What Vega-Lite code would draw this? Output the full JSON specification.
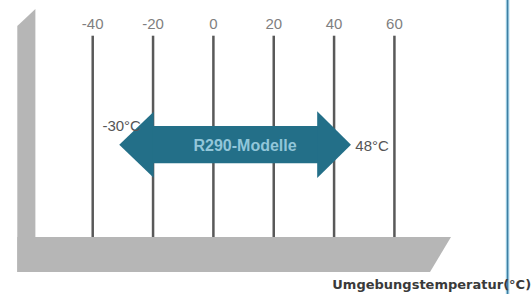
{
  "$schema": "https://vega.github.io/schema/vega-lite/v6.json",
  "width": 532,
  "height": 294,
  "padding": 0,
  "autosize": {"type": "none"},
  "background": "#ffffff",
  "config": {"view": {"stroke": null}},
  "datasets": {
    "base": [
      {"shape": "wall", "t": -65.0, "top": 26, "bottom": 272},
      {"shape": "wall", "t": -59.0, "top": 9, "bottom": 272},
      {"shape": "floor", "t": -65.0, "top": 237, "bottom": 272},
      {"shape": "floor", "t": 71.8, "top": 237, "bottom": 272},
      {"shape": "floor", "t": 78.75, "top": 237, "bottom": 237}
    ],
    "ticks": [
      {"t": -40, "label": "-40"},
      {"t": -20, "label": "-20"},
      {"t": 0, "label": "0"},
      {"t": 20, "label": "20"},
      {"t": 40, "label": "40"},
      {"t": 60, "label": "60"}
    ],
    "arrow": [
      {"part": "left", "t": -31.2, "top": 144.7, "bottom": 144.7},
      {"part": "left", "t": -19.8, "top": 111.7, "bottom": 177.7},
      {"part": "shaft", "t": -20.2, "top": 126, "bottom": 163.3},
      {"part": "shaft", "t": 34.8, "top": 126, "bottom": 163.3},
      {"part": "right", "t": 34.4, "top": 111.3, "bottom": 178},
      {"part": "right", "t": 45.6, "top": 144.7, "bottom": 144.7}
    ],
    "limits": [
      {"t": -30.4, "y": 130.7, "label": "-30°C"},
      {"t": 52.6, "y": 150.7, "label": "48°C"}
    ],
    "divider": [{"t": 97.5, "top": 0, "bottom": 294}]
  },
  "layer": [
    {
      "data": {"name": "base"},
      "mark": {"type": "area", "color": "#b6b6b6", "interpolate": "linear"},
      "encoding": {
        "x": {"field": "t", "type": "quantitative", "scale": {"domain": [-70.73, 105.6], "nice": false, "zero": false}, "axis": null},
        "y": {"field": "top", "type": "quantitative", "scale": {"domain": [0, 294], "reverse": true, "nice": false, "zero": false}, "axis": null},
        "y2": {"field": "bottom"},
        "detail": {"field": "shape"}
      }
    },
    {
      "data": {"name": "ticks"},
      "mark": {"type": "rule", "color": "#595959", "strokeWidth": 2.5},
      "encoding": {
        "x": {"field": "t", "type": "quantitative"},
        "y": {"datum": 35.7, "type": "quantitative"},
        "y2": {"datum": 237}
      }
    },
    {
      "data": {"name": "ticks"},
      "mark": {"type": "text", "font": "Liberation Sans", "fontSize": 15, "color": "#7f7f7f", "baseline": "alphabetic", "align": "center"},
      "encoding": {
        "x": {"field": "t", "type": "quantitative"},
        "y": {"datum": 29, "type": "quantitative"},
        "text": {"field": "label"}
      }
    },
    {
      "data": {"name": "arrow"},
      "mark": {"type": "area", "color": "#236f88", "interpolate": "linear"},
      "encoding": {
        "x": {"field": "t", "type": "quantitative"},
        "y": {"field": "top", "type": "quantitative"},
        "y2": {"field": "bottom"},
        "detail": {"field": "part"}
      }
    },
    {
      "data": {"values": [{"t": 10.5, "y": 150.7, "label": "R290-Modelle"}]},
      "mark": {"type": "text", "font": "Liberation Sans", "fontSize": 16, "fontWeight": "bold", "color": "#92c6d9", "baseline": "alphabetic", "align": "center"},
      "encoding": {
        "x": {"field": "t", "type": "quantitative"},
        "y": {"field": "y", "type": "quantitative"},
        "text": {"field": "label"}
      }
    },
    {
      "data": {"name": "limits"},
      "mark": {"type": "text", "font": "Liberation Sans", "fontSize": 15, "color": "#555555", "baseline": "alphabetic", "align": "center"},
      "encoding": {
        "x": {"field": "t", "type": "quantitative"},
        "y": {"field": "y", "type": "quantitative"},
        "text": {"field": "label"}
      }
    },
    {
      "data": {"name": "divider"},
      "mark": {"type": "rule", "color": "#9ccbe0", "strokeWidth": 3.5},
      "encoding": {
        "x": {"field": "t", "type": "quantitative"},
        "y": {"field": "top", "type": "quantitative"},
        "y2": {"field": "bottom"}
      }
    },
    {
      "data": {"name": "divider"},
      "mark": {"type": "rule", "color": "#3f7fa3", "strokeWidth": 1.2},
      "encoding": {
        "x": {"field": "t", "type": "quantitative"},
        "y": {"field": "top", "type": "quantitative"},
        "y2": {"field": "bottom"}
      }
    },
    {
      "data": {"values": [{"t": 105.3, "y": 289, "label": "Umgebungstemperatur(°C)"}]},
      "mark": {"type": "text", "font": "DejaVu Sans", "fontSize": 13, "fontWeight": "bold", "color": "#3a3a3a", "baseline": "alphabetic", "align": "right"},
      "encoding": {
        "x": {"field": "t", "type": "quantitative"},
        "y": {"field": "y", "type": "quantitative"},
        "text": {"field": "label"}
      }
    }
  ]
}
